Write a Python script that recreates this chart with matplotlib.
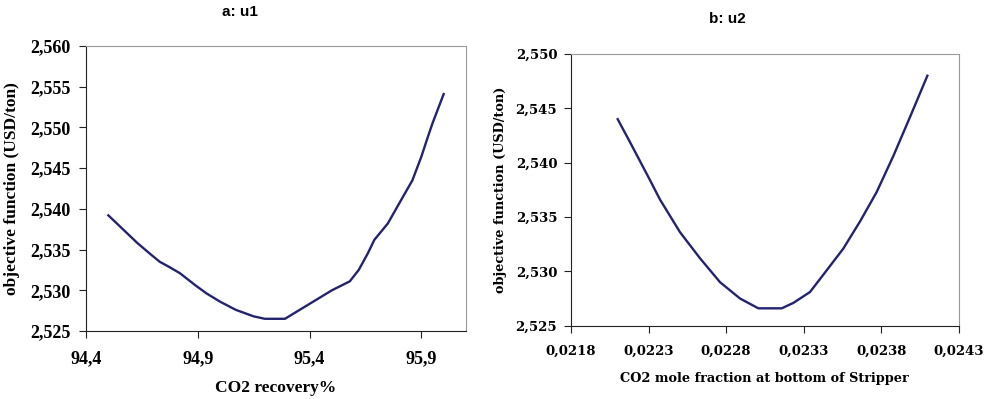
import matplotlib.pyplot as plt
from matplotlib.ticker import FuncFormatter

# a: u1 - objective function vs CO2 recovery
recovery = [94.50, 94.63, 94.69, 94.73, 94.77, 94.82, 94.89, 94.94, 95.00, 95.07,
            95.15, 95.20, 95.29, 95.38, 95.44, 95.50, 95.58, 95.62, 95.66, 95.69,
            95.75, 95.81, 95.86, 95.90, 95.93, 95.95, 96.00]
obj_u1 = [2.5392, 2.5358, 2.5344, 2.5335, 2.5329, 2.5321, 2.5306, 2.5296, 2.5286, 2.5276,
          2.5268, 2.5265, 2.5265, 2.5280, 2.5290, 2.5300, 2.5311, 2.5325, 2.5345, 2.5362,
          2.5382, 2.5411, 2.5435, 2.5464, 2.5489, 2.5505, 2.5541]

# b: u2 - objective function vs CO2 mole fraction at bottom of stripper
mole_frac = [0.022101, 0.022180, 0.022309, 0.022374, 0.022503, 0.022632, 0.022761,
             0.022890, 0.023008, 0.023159, 0.023234, 0.023341, 0.023449, 0.023556,
             0.023664, 0.023771, 0.023878, 0.023986, 0.024098]
obj_u2 = [2.5440, 2.5419, 2.5384, 2.5366, 2.5336, 2.5312, 2.5290, 2.5275, 2.5266, 2.5266,
          2.5271, 2.5281, 2.5301, 2.5321, 2.5346, 2.5373, 2.5406, 2.5442, 2.5480]

u1_xticks = [94.4, 94.9, 95.4, 95.9]
u1_yticks = [2.525, 2.530, 2.535, 2.540, 2.545, 2.550, 2.555, 2.560]
u2_xticks = [0.0218, 0.0223, 0.0228, 0.0233, 0.0238, 0.0243]
u2_yticks = [2.525, 2.530, 2.535, 2.540, 2.545, 2.550]

line_color = '#23236f'


def comma_fmt(decimals):
    return FuncFormatter(lambda v, pos: f"{v:.{decimals}f}".replace('.', ','))


def style_axes(ax, family, tick_size, xpad, ypad):
    for side in ['top', 'right']:
        ax.spines[side].set_color('#9a9a9a')
    for side in ['left', 'bottom']:
        ax.spines[side].set_color('#222222')
    ax.tick_params(axis='both', direction='out', length=5, width=0.8, color='#222222',
                   labelsize=tick_size, labelfontfamily=family)
    ax.tick_params(axis='x', pad=xpad)
    ax.tick_params(axis='y', pad=ypad)
    plt.setp(ax.get_xticklabels() + ax.get_yticklabels(), fontweight='bold')


fig = plt.figure(figsize=(9.84, 3.99), dpi=100)

# left panel
ax1 = fig.add_axes([0.0874, 0.1704, 0.3862, 0.7143])
ax1.plot(recovery, obj_u1, color=line_color, linewidth=1.7)
ax1.set_xlim(94.4, 96.1)
ax1.set_ylim(2.525, 2.560)
ax1.set_xticks(u1_xticks)
ax1.set_yticks(u1_yticks)
ax1.xaxis.set_major_formatter(comma_fmt(1))
ax1.yaxis.set_major_formatter(comma_fmt(3))
style_axes(ax1, 'Liberation Serif', 13, 9, 6)
ax1.set_xlabel('CO2 recovery%', family='Liberation Serif', fontweight='bold', fontsize=12.5)
ax1.set_ylabel('objective function (USD/ton)', family='Liberation Serif', fontweight='bold', fontsize=12.5)
ax1.xaxis.set_label_coords(0.5, -0.172)
ax1.yaxis.set_label_coords(-0.174, 0.5)
fig.text(240 / 984, 1 - 12 / 399, 'a: u1', ha='center', va='center',
         family='Liberation Sans', fontweight='bold', fontsize=11)

# right panel
ax2 = fig.add_axes([0.5803, 0.1837, 0.394, 0.681])
ax2.plot(mole_frac, obj_u2, color=line_color, linewidth=1.7)
ax2.set_xlim(0.0218, 0.0243)
ax2.set_ylim(2.525, 2.550)
ax2.set_xticks(u2_xticks)
ax2.set_yticks(u2_yticks)
ax2.xaxis.set_major_formatter(comma_fmt(4))
ax2.yaxis.set_major_formatter(comma_fmt(3))
style_axes(ax2, 'DejaVu Serif', 9.5, 9, 5)
ax2.set_xlabel('CO2 mole fraction at bottom of Stripper', family='DejaVu Serif', fontweight='bold', fontsize=9.3)
ax2.set_ylabel('objective function (USD/ton)', family='DejaVu Serif', fontweight='bold', fontsize=9.3)
ax2.xaxis.set_label_coords(0.5, -0.172)
ax2.yaxis.set_label_coords(-0.166, 0.5)
fig.text(727 / 984, 1 - 19 / 399, 'b: u2', ha='center', va='center',
         family='Liberation Sans', fontweight='bold', fontsize=11)

fig.savefig('out.png', dpi=100)
